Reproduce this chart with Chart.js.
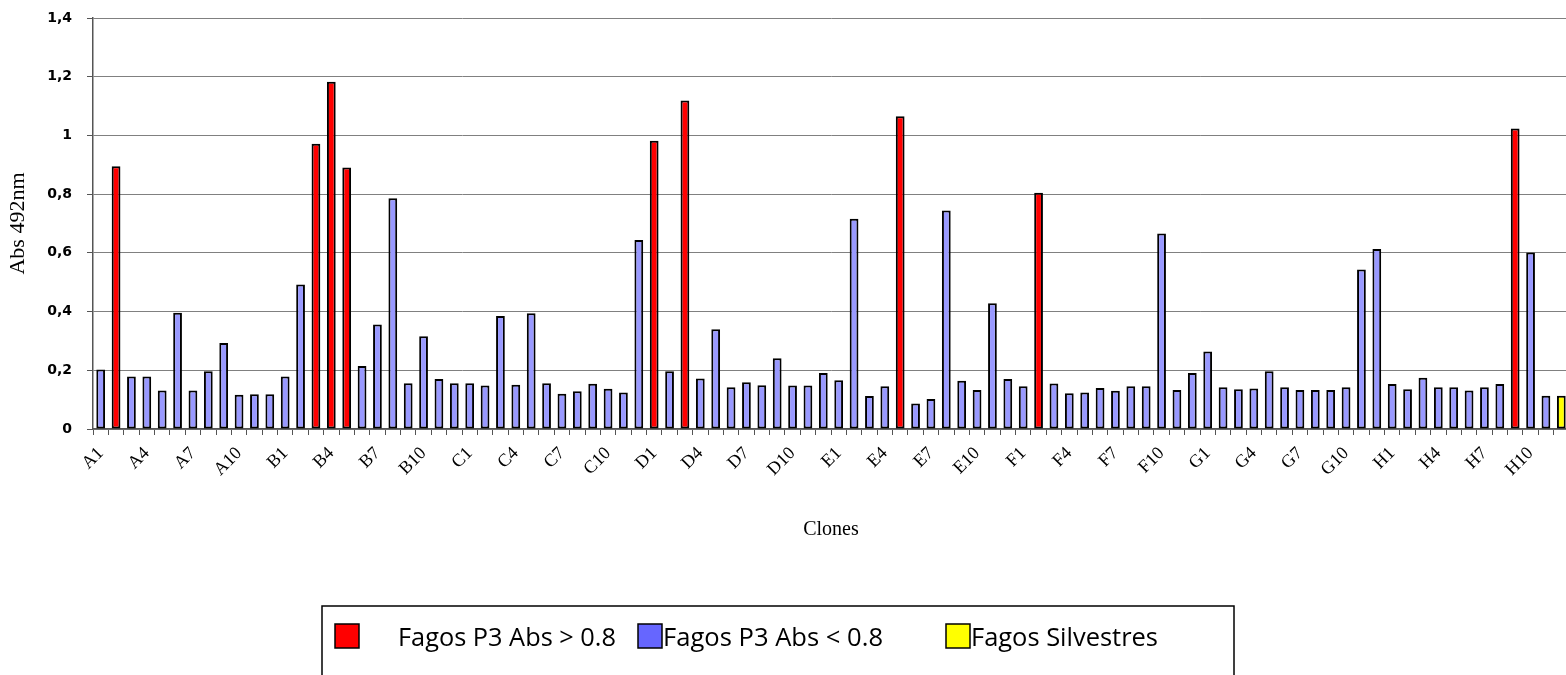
<!DOCTYPE html>
<html>
<head>
<meta charset="utf-8">
<script src="https://cdn.jsdelivr.net/npm/chart.js@4/dist/chart.umd.min.js"></script>
<style>
  html, body { margin: 0; padding: 0; background: #fff; overflow: hidden; }
  canvas { display: block; }
</style>
</head>
<body>
<canvas id="absChart" width="1570" height="675"></canvas>
<script>
// Placa de 96 clones: filas A-H, columnas 1-12
const rows = ['A', 'B', 'C', 'D', 'E', 'F', 'G', 'H'];
const wells = [1, 2, 3, 4, 5, 6, 7, 8, 9, 10, 11, 12];

// Abs 492nm por fila
const rowA = [0.203, 0.895, 0.179, 0.179, 0.131, 0.396, 0.131, 0.197, 0.293, 0.117, 0.118, 0.118];
const rowB = [0.179, 0.492, 0.972, 1.183, 0.891, 0.215, 0.356, 0.786, 0.156, 0.316, 0.170, 0.156];
const rowC = [0.156, 0.148, 0.385, 0.151, 0.394, 0.156, 0.120, 0.129, 0.154, 0.137, 0.124, 0.644];
const rowD = [0.982, 0.197, 1.119, 0.172, 0.340, 0.142, 0.159, 0.149, 0.241, 0.148, 0.148, 0.191];
const rowE = [0.166, 0.716, 0.112, 0.146, 1.065, 0.087, 0.102, 0.744, 0.164, 0.133, 0.428, 0.170];
const rowF = [0.146, 0.805, 0.155, 0.122, 0.124, 0.140, 0.130, 0.146, 0.146, 0.666, 0.133, 0.191];
const rowG = [0.264, 0.142, 0.135, 0.138, 0.197, 0.142, 0.133, 0.133, 0.133, 0.142, 0.543, 0.613];
const rowH = [0.153, 0.135, 0.175, 0.142, 0.142, 0.131, 0.142, 0.153, 1.024, 0.601, 0.113, 0.113];

// Clasificación de los clones
const highClones = ['A2', 'B3', 'B4', 'B5', 'D1', 'D3', 'E5', 'F2', 'H9'];
const wildClones = ['H12'];

const seriesNames = ['Fagos P3 Abs > 0.8', 'Fagos P3 Abs < 0.8', 'Fagos Silvestres'];
const yTicks = [0, 0.2, 0.4, 0.6, 0.8, 1, 1.2, 1.4];

const clones = rows.flatMap(r => wells.map(w => r + w));
const absValues = [].concat(rowA, rowB, rowC, rowD, rowE, rowF, rowG, rowH);

const highData = clones.map((c, i) => highClones.includes(c) ? absValues[i] : null);
const wildData = clones.map((c, i) => wildClones.includes(c) ? absValues[i] : null);
const lowData = clones.map((c, i) =>
  (highClones.includes(c) || wildClones.includes(c)) ? null : absValues[i]);

// Leyenda con recuadro, dibujada a mano
const boxLegend = {
  id: 'boxLegend',
  afterDraw(chart, args, opts) {
    const ctx = chart.ctx;
    ctx.save();
    ctx.strokeStyle = '#000';
    ctx.lineWidth = 1.5;
    ctx.strokeRect(322, 606, 912, 120);
    opts.items.forEach((it, i) => {
      ctx.fillStyle = opts.colors[i];
      ctx.fillRect(it.box, 624, 24, 24);
      ctx.strokeStyle = '#000';
      ctx.lineWidth = 1.5;
      ctx.strokeRect(it.box, 624, 24, 24);
      const label = chart.data.datasets[i].label;
      ctx.font = '25px "Open Sans"';
      ctx.fillStyle = '#000';
      ctx.textBaseline = 'alphabetic';
      ctx.textAlign = 'left';
      const w = ctx.measureText(label).width;
      ctx.save();
      ctx.translate(it.text, 646);
      ctx.scale(it.width / w, 1);
      ctx.fillText(label, 0, 0);
      ctx.restore();
    });
    ctx.restore();
  }
};

// Sin relleno extra de las escalas: el área del gráfico la fija el layout
const noScalePadding = s => {
  s.paddingTop = 0;
  s.paddingBottom = 0;
  s.paddingLeft = 0;
  s.paddingRight = 0;
};

const ctx = document.querySelector('#absChart').getContext('2d');

const myChart = new Chart(ctx, {
  type: 'bar',
  data: {
    labels: clones,
    datasets: [
      { label: seriesNames[0], data: highData, backgroundColor: '#ff0000' },
      { label: seriesNames[1], data: lowData, backgroundColor: '#9999ff' },
      { label: seriesNames[2], data: wildData, backgroundColor: '#ffff00' },
    ].map(d => Object.assign(d, {
      borderColor: '#000',
      borderWidth: 2,
      borderSkipped: false,
      categoryPercentage: 1,
      barPercentage: 0.57,
    }))
  },
  options: {
    responsive: false,
    animation: false,
    layout: { padding: { top: 18, left: 0, right: 1, bottom: 119 } },
    plugins: {
      legend: { display: false },
      tooltip: { enabled: false },
      boxLegend: {
        colors: ['#ff0000', '#6666ff', '#ffff00'],
        items: [
          { box: 335, text: 398, width: 218 },
          { box: 638, text: 663, width: 220 },
          { box: 946, text: 971, width: 187 },
        ]
      }
    },
    scales: {
      x: {
        stacked: true,
        afterFit: s => { s.height = 127; noScalePadding(s); },
        grid: {
          offset: true,
          drawOnChartArea: false,
          tickLength: 6,
          tickColor: '#555',
        },
        border: { color: '#555', width: 1.5 },
        ticks: {
          autoSkip: false,
          minRotation: 45,
          maxRotation: 45,
          padding: 8,
          color: '#000',
          font: { family: '"Liberation Serif"', size: 18 },
          callback: (v, i) => i % 3 === 0 ? clones[i] : ''
        },
        title: {
          display: true,
          text: 'Clones',
          color: '#000',
          font: { family: '"Liberation Serif"', size: 20 },
          padding: { top: 0, bottom: 14 }
        }
      },
      y: {
        stacked: true,
        min: 0,
        max: 1.4,
        afterFit: s => { s.width = 93; noScalePadding(s); },
        afterBuildTicks: s => { s.ticks = yTicks.map(v => ({ value: v })); },
        grid: {
          color: '#808080',
          lineWidth: 1,
          tickLength: 6,
          tickColor: '#555',
        },
        border: { color: '#555', width: 1.5 },
        ticks: {
          padding: 15,
          color: '#000',
          font: { family: '"DejaVu Sans"', size: 14, weight: 'bold' },
          callback: v => String(Math.round(v * 10) / 10).replace('.', ',')
        },
        title: {
          display: true,
          text: 'Abs 492nm',
          color: '#000',
          font: { family: '"Liberation Serif"', size: 22 },
          padding: { top: 5, bottom: 0 }
        }
      }
    }
  },
  plugins: [boxLegend]
});
</script>
</body>
</html>
